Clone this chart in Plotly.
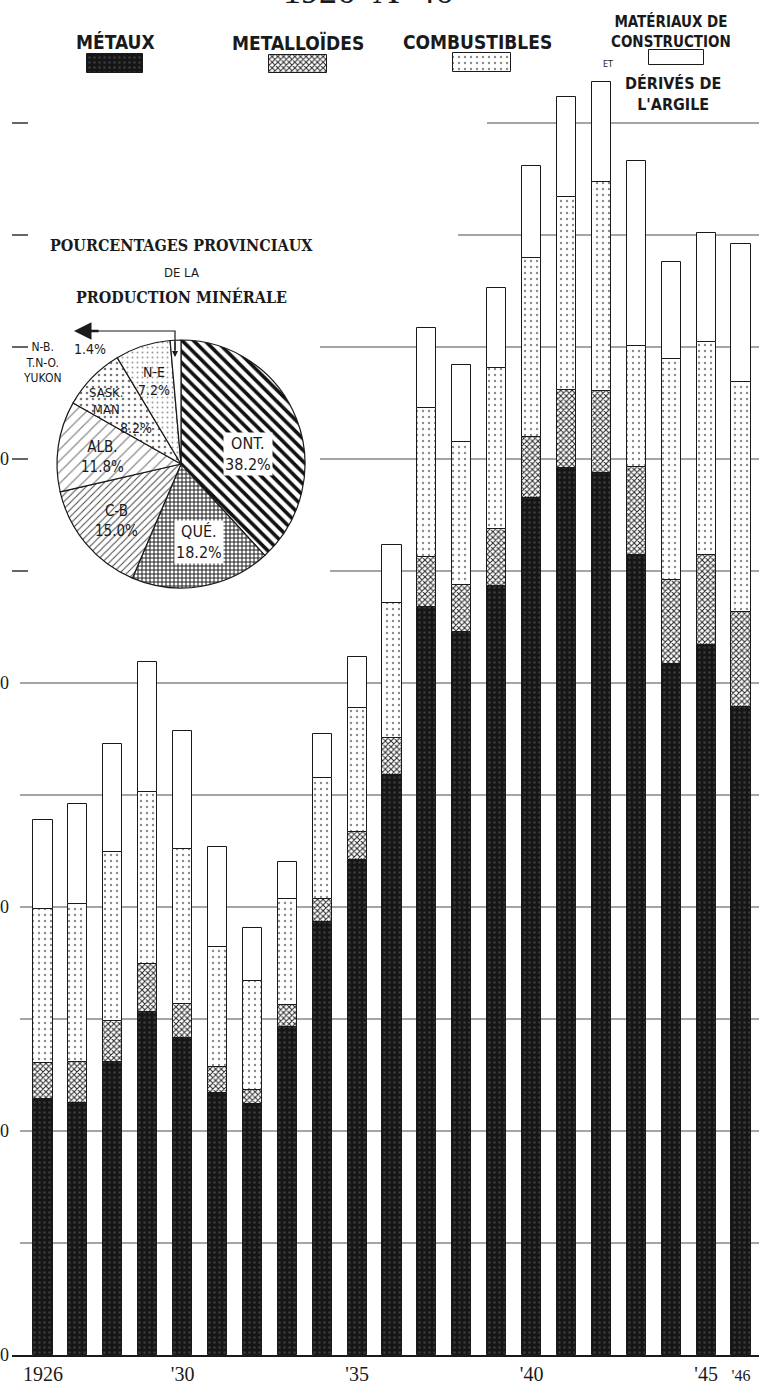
import numpy as np
import plotly.graph_objects as go

# ---- Production minérale du Canada, 1926-1946 (millions de dollars) ----
years = list(range(1926, 1947))
metaux = [114.3, 112.5, 130.8, 153.1, 141.5, 117.0, 112.1, 146.4, 193.3, 221.0, 258.9,
          333.9, 322.8, 343.3, 382.6, 396.0, 393.8, 357.1, 308.5, 317.0, 289.3]
metalloides = [16.1, 18.3, 18.3, 21.5, 15.2, 11.6, 6.2, 9.9, 10.3, 12.5, 16.5,
               22.4, 21.0, 25.5, 27.2, 34.8, 36.6, 39.3, 37.5, 40.1, 42.4]
combustibles = [68.7, 70.5, 75.5, 76.7, 69.2, 53.5, 48.7, 47.3, 54.0, 55.3, 60.3,
                66.5, 63.8, 71.8, 79.9, 86.2, 93.3, 54.0, 98.6, 95.1, 102.7]
construction = [39.7, 44.7, 48.2, 58.1, 52.7, 44.7, 23.6, 16.5, 19.6, 22.8, 25.9,
                35.7, 34.4, 35.7, 41.1, 44.6, 44.6, 82.6, 43.4, 48.7, 61.6]

tick_years = [1926, 1930, 1935, 1940, 1945, 1946]
tick_text = ["1926", "'30", "'35", "'40", "'45", "<span style='font-size:16px'>'46</span>"]
y_ticks = [0, 100, 200, 300, 400]

# ---- Pourcentages provinciaux ----
provinces = ["ONT.", "QUÉ.", "C-B", "ALB.", "SASK. MAN", "N-E", "N-B. T.N-O. YUKON"]
pourcentages = [38.2, 18.2, 15.0, 11.8, 8.2, 7.2, 1.4]

W, H = 759, 1385
ML, MB = 12, 30
PX_PER_UNIT = 2.24            # vertical scale: 112 px per 50 M$
Y0 = H - MB                   # pixel row of the zero line


def px(x):
    """horizontal pixel -> paper fraction"""
    return (x - ML) / (W - ML)


def py(y):
    """vertical pixel -> paper fraction"""
    return (Y0 - y) / Y0


BAR_W = 0.545
styles = [
    dict(shape=".", fgcolor="#3a3a3a", bgcolor="#161616", size=5, solidity=0.2),
    dict(shape="x", fgcolor="#2a2a2a", bgcolor="#ffffff", size=4, solidity=0.45),
    dict(shape=".", fgcolor="#8a8a8a", bgcolor="#ffffff", size=6, solidity=0.12),
    dict(shape="", fgcolor="#ffffff", bgcolor="#ffffff", size=6, solidity=0.3),
]
series = [
    ("MÉTAUX", metaux),
    ("METALLOÏDES", metalloides),
    ("COMBUSTIBLES", combustibles),
    ("MATÉRIAUX DE CONSTRUCTION", construction),
]

fig = go.Figure()
base = np.zeros(len(years))
for (name, vals), pat in zip(series, styles):
    v = np.array(vals)
    fig.add_trace(go.Bar(
        x=years, y=v, base=base.copy(), width=BAR_W, name=name,
        marker=dict(color=pat["bgcolor"], line=dict(color="#1a1a1a", width=1),
                    pattern=dict(fillmode="replace", **pat)),
        hoverinfo="skip", showlegend=False,
    ))
    base = base + v

# ---- legend swatches, drawn on pixel-mapped overlay axes ----
sw_x0 = [87, 269, 453, 649]
sw_len = [56, 58, 58, 55]
sw_y = [63.5, 64, 62.5, 57.5]
sw_h = [19, 18, 19, 15]
for i, pat in enumerate(styles):
    fig.add_trace(go.Bar(
        orientation="h", x=[sw_len[i]], base=[sw_x0[i]], y=[sw_y[i]], width=[sw_h[i]],
        xaxis="x2", yaxis="y2",
        marker=dict(color=pat["bgcolor"], line=dict(color="#1a1a1a", width=1),
                    pattern=dict(fillmode="replace", **pat)),
        hoverinfo="skip", showlegend=False,
    ))

# ---- inset pie ----
cx, cy, r = 181, 464, 124
fig.add_trace(go.Pie(
    values=pourcentages, labels=provinces, sort=False, direction="clockwise", rotation=0,
    textinfo="none", hoverinfo="skip", showlegend=False,
    domain=dict(x=[px(cx - r), px(cx + r)], y=[py(cy + r), py(cy - r)]),
    marker=dict(
        colors=["#ffffff"] * 7,
        line=dict(color="#1a1a1a", width=1.2),
        pattern=dict(
            fillmode="replace",
            shape=["\\", "+", "/", "/", ".", ".", ""],
            fgcolor=["#111111", "#222222", "#444444", "#8a8a8a", "#777777", "#9a9a9a", "#ffffff"],
            bgcolor=["#ffffff"] * 7,
            size=[8, 4, 5, 8, 6, 5, 6],
            solidity=[0.45, 0.45, 0.2, 0.15, 0.15, 0.12, 0.1],
        ),
    ),
))

# ---- gridlines every 50 M$ ----
shapes = []
grid_start = {350: 330, 400: 320, 450: 320, 500: 458, 550: 487}
for lvl in range(50, 600, 50):
    x0 = grid_start.get(lvl, 20)
    shapes.append(dict(type="line", xref="x2", yref="y", x0=x0, x1=W, y0=lvl, y1=lvl,
                       line=dict(color="#4a4a4a", width=1), layer="below"))
    if lvl in grid_start:
        shapes.append(dict(type="line", xref="x2", yref="y", x0=12, x1=28, y0=lvl, y1=lvl,
                           line=dict(color="#333333", width=1.5), layer="below"))
# bracket pointing to the smallest slice
shapes.append(dict(type="path", xref="x2", yref="y2", path="M 80 331 L 175 331 L 175 350",
                   line=dict(color="#1a1a1a", width=1.2)))

SANS_C = "DejaVu Sans Condensed, Liberation Sans Narrow, sans-serif"
SERIF_C = "DejaVu Serif Condensed, DejaVu Serif, serif"
ann = []


def text(x, y, s, size, family=SANS_C, anchor="center", bg=None, color="#1a1a1a"):
    d = dict(xref="x2", yref="y2", x=x, y=y, text=s, showarrow=False, xanchor=anchor,
             yanchor="middle", font=dict(family=family, size=size, color=color))
    if bg:
        d.update(bgcolor=bg, borderpad=1)
    else:
        d.update(borderpad=0)
    ann.append(d)


# chart title (mostly beyond the top edge)
ann.append(dict(xref="x2", yref="y2", x=368, y=13, text="1926  À  46", showarrow=False,
                xanchor="center", yanchor="bottom",
                font=dict(family="Liberation Serif, serif", size=36, color="#1a1a1a")))

# legend headings
text(115, 42, "<b>MÉTAUX</b>", 19)
text(298, 42, "<b>METALLOÏDES</b>", 19)
text(477, 42, "<b>COMBUSTIBLES</b>", 19)
text(671, 31, "<b>MATÉRIAUX DE<br>CONSTRUCTION</b>", 15)
text(608, 64, "ET", 9)
text(673, 94, "<b>DÉRIVÉS DE<br>L'ARGILE</b>", 16)

# pie heading
text(181, 245, "<b>POURCENTAGES PROVINCIAUX</b>", 16, family=SERIF_C)
text(181, 272, "DE LA", 13, family=SANS_C)
text(181, 297, "<b>PRODUCTION MINÉRALE</b>", 16, family=SERIF_C)

# pie slice labels
pct = [f"{v:.1f}%" for v in pourcentages]
text(248, 454, f"ONT.<br>{pct[0]}", 16, bg="#ffffff")
text(199, 542, f"QUÉ.<br>{pct[1]}", 16, bg="#ffffff")
text(116, 521, f"C-B<br>{pct[2]}", 15)
text(102, 457, f"ALB.<br>{pct[3]}", 15)
text(106, 401, "SASK.<br>MAN", 13)
text(136, 428, pct[4], 14)
text(154, 381, f"N-E<br>{pct[5]}", 14)
text(22, 362, "N-B.<br>T.N-O.<br>YUKON", 12, anchor="left")
text(90, 349, pct[6], 14)

# arrowheads of the bracket
ann.append(dict(xref="x2", yref="y2", axref="x2", ayref="y2", x=175, y=357, ax=175, ay=340,
                text="", showarrow=True, arrowhead=2, arrowsize=1, arrowwidth=1.2,
                arrowcolor="#1a1a1a"))
ann.append(dict(xref="x2", yref="y2", axref="x2", ayref="y2", x=74, y=331, ax=100, ay=331,
                text="", showarrow=True, arrowhead=2, arrowsize=1.4, arrowwidth=2.5,
                arrowcolor="#1a1a1a"))

fig.update_layout(
    width=W, height=H,
    margin=dict(l=ML, r=0, t=0, b=MB, pad=0),
    paper_bgcolor="white", plot_bgcolor="white",
    barmode="overlay", bargap=0,
    shapes=shapes, annotations=ann,
    xaxis=dict(range=[1925.112, 1946.516], tickvals=tick_years, ticktext=tick_text,
               tickfont=dict(family="Liberation Serif, serif", size=20, color="#1a1a1a"),
               showline=True, linecolor="#1a1a1a", linewidth=1.5, ticks="",
               showgrid=False, zeroline=False, automargin=False, fixedrange=True),
    yaxis=dict(range=[0, Y0 / PX_PER_UNIT], tickvals=y_ticks, ticklabelstandoff=2,
               tickfont=dict(family="Liberation Serif, serif", size=18, color="#1a1a1a"),
               showline=False, ticks="", showgrid=False, zeroline=False,
               automargin=False, fixedrange=True),
    xaxis2=dict(overlaying="x", anchor="y2", range=[ML, W], visible=False, fixedrange=True),
    yaxis2=dict(overlaying="y", anchor="x2", range=[Y0, 0], visible=False, fixedrange=True),
)

fig.write_html("out.html")
